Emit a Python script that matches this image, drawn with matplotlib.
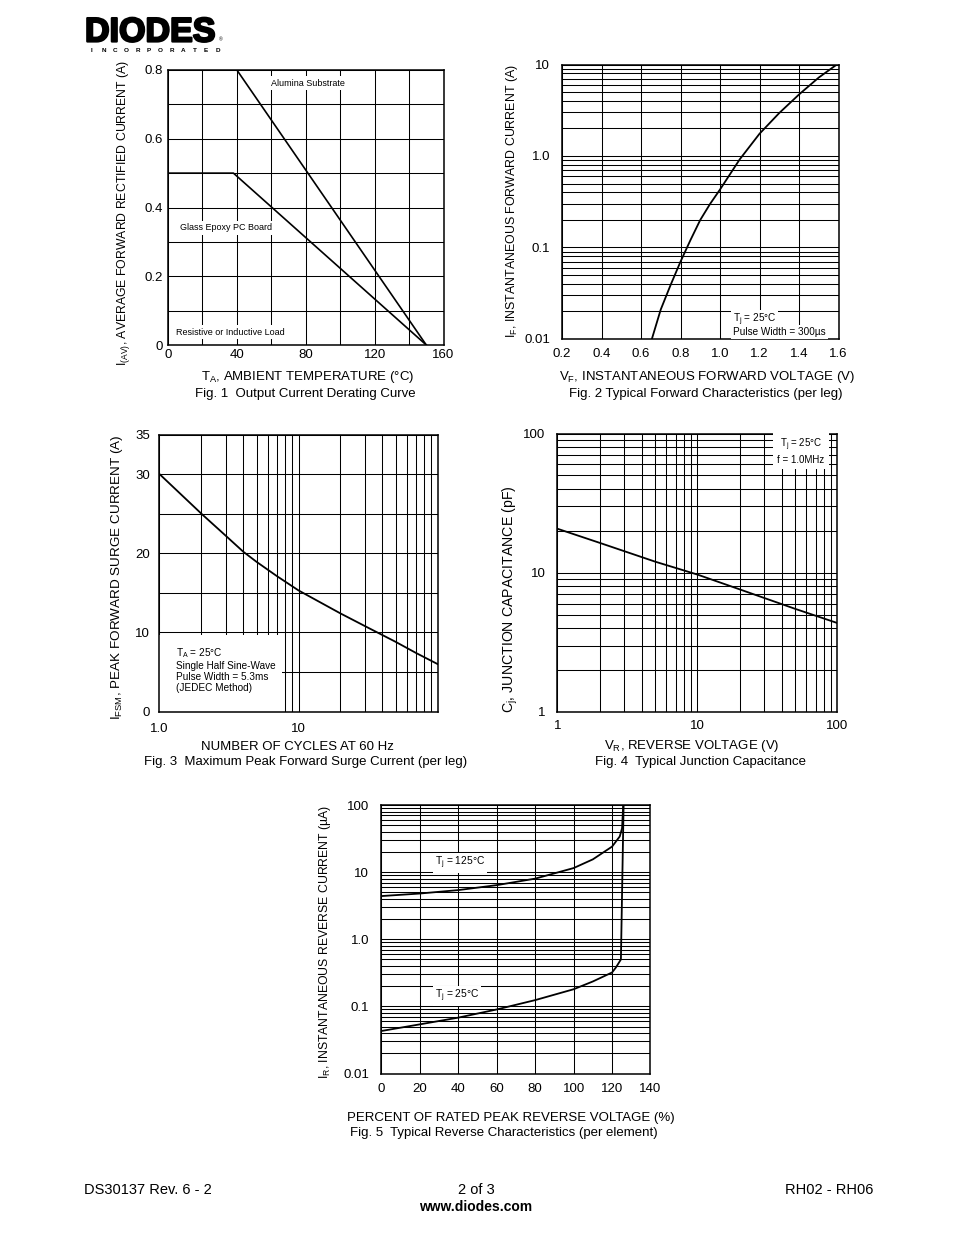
import matplotlib
matplotlib.use("Agg")
import matplotlib.pyplot as plt
import matplotlib.ticker as mticker
import matplotlib.patheffects as pe
from matplotlib.lines import Line2D
from matplotlib.patches import Rectangle

# ---------------------------------------------------------------------------
# Data
# ---------------------------------------------------------------------------

# Fig. 1  Output current derating
temp_alumina = [0, 40, 150]
iav_alumina = [0.8, 0.8, 0.0]
temp_epoxy = [0, 38, 150]
iav_epoxy = [0.5, 0.5, 0.0]

# Fig. 2  Typical forward characteristics
vf = [0.655, 0.70, 0.75, 0.80, 0.85, 0.90, 0.95, 1.00, 1.10, 1.20, 1.30, 1.40, 1.50, 1.60]
i_f = [0.01, 0.021, 0.039, 0.07, 0.12, 0.2, 0.30, 0.43, 0.92, 1.75, 2.95, 4.7, 7.2, 10.3]

# Fig. 3  Max peak forward surge current
cycles = [1, 2, 3, 4, 5, 7, 10, 20, 30, 50, 70, 100]
ifsm = [30, 25, 22.2, 20.2, 18.9, 17.1, 15.3, 12.4, 10.8, 8.8, 7.4, 6.0]

# Fig. 4  Typical junction capacitance
vr = [1, 2, 5, 10, 20, 50, 100]
cj = [20.7, 16.4, 12.0, 9.7, 7.6, 5.5, 4.35]

# Fig. 5  Typical reverse characteristics
pct_hot = [0, 20, 40, 60, 80, 100, 110, 120, 124, 125.2, 125.8]
ir_hot = [4.4, 4.8, 5.4, 6.4, 8.0, 11.5, 15.5, 24, 34, 45, 100]
pct_cold = [0, 20, 40, 60, 80, 100, 110, 120, 122, 124.6, 125.3, 126]
ir_cold = [0.043, 0.054, 0.068, 0.09, 0.124, 0.18, 0.235, 0.32, 0.38, 0.5, 7, 100]

# ---------------------------------------------------------------------------
# Page setup
# ---------------------------------------------------------------------------

W, H = 954, 1235
plt.rcParams["font.family"] = ["Liberation Sans", "DejaVu Sans"]
plt.rcParams["mathtext.fontset"] = "custom"
plt.rcParams["mathtext.rm"] = "Liberation Sans"
plt.rcParams["mathtext.it"] = "Liberation Sans:italic"
plt.rcParams["mathtext.bf"] = "Liberation Sans:bold"
plt.rcParams["mathtext.default"] = "regular"

fig = plt.figure(figsize=(W / 100, H / 100), dpi=100)
fig.patch.set_facecolor("white")

LBL = 9.5     # axis labels, tick labels, captions
NOTE = 7.2    # notes inside the plots
BOX = dict(facecolor="white", edgecolor="none", pad=1.5)


def ftext(x, y, s, **kw):
    """Figure text at pixel coordinates (origin top-left)."""
    kw.setdefault("fontsize", LBL)
    return fig.text(x / W, 1 - y / H, s, **kw)


def px_axes(left, top, right, bottom):
    return fig.add_axes([left / W, 1 - bottom / H, (right - left) / W, (bottom - top) / H])


def style(ax, pad_x, pad_y):
    for s in ax.spines.values():
        s.set_linewidth(1.1)
        s.set_color("black")
    ax.grid(True, which="both", color="black", linewidth=0.75)
    ax.tick_params(which="both", length=0, labelsize=LBL, colors="black")
    ax.tick_params(axis="x", pad=pad_x)
    ax.tick_params(axis="y", pad=pad_y)


def log_minor(axis):
    axis.set_minor_locator(mticker.LogLocator(subs=range(2, 10)))
    axis.set_minor_formatter(mticker.NullFormatter())


# ---------------------------------------------------------------------------
# Fig. 1
# ---------------------------------------------------------------------------
ax1 = px_axes(168, 70, 443.5, 345)
ax1.plot(temp_alumina, iav_alumina, color="black", lw=1.2, zorder=3)
ax1.plot(temp_epoxy, iav_epoxy, color="black", lw=1.2, zorder=3)
ax1.set_xlim(0, 160)
ax1.set_ylim(0, 0.8)
ax1.xaxis.set_major_locator(mticker.MultipleLocator(40))
ax1.xaxis.set_minor_locator(mticker.MultipleLocator(20))
ax1.yaxis.set_major_locator(mticker.MultipleLocator(0.2))
ax1.yaxis.set_minor_locator(mticker.MultipleLocator(0.1))
ax1.yaxis.set_major_formatter(mticker.FuncFormatter(lambda v, _: "0" if v == 0 else f"{v:.1f}"))
style(ax1, 3, 4)
ftext(271, 83, "Alumina Substrate", fontsize=6.5, va="center", bbox=BOX)
ftext(180, 228, "Glass Epoxy PC Board", fontsize=6.5, va="center", bbox=BOX)
ftext(176, 332, "Resistive or Inductive Load", fontsize=6.5, va="center", bbox=BOX)
ftext(124, 213, "I$_{(AV)}$, AVERAGE FORWARD RECTIFIED CURRENT (A)", rotation=90,
      ha="center", va="center", fontsize=8.8)
ftext(308, 377, "T$_A$, AMBIENT TEMPERATURE (°C)", ha="center", va="center")
ftext(305, 394, "Fig. 1  Output Current Derating Curve", ha="center", va="center")

# ---------------------------------------------------------------------------
# Fig. 2
# ---------------------------------------------------------------------------
ax2 = px_axes(562, 64.5, 838.5, 339)
ax2.plot(vf, i_f, color="black", lw=1.3, zorder=3)
ax2.set_yscale("log")
ax2.set_xlim(0.2, 1.6)
ax2.set_ylim(0.01, 10)
ax2.xaxis.set_major_locator(mticker.MultipleLocator(0.2))
ax2.xaxis.set_major_formatter(mticker.FormatStrFormatter("%.1f"))
ax2.set_yticks([0.01, 0.1, 1, 10])
ax2.set_yticklabels(["0.01", "0.1", "1.0", "10"])
log_minor(ax2.yaxis)
style(ax2, 6.5, 8.5)
ftext(733, 320, "T$_j$ = 25°C", fontsize=NOTE, va="center", bbox=BOX)
ftext(733, 332, "Pulse Width = 300µs", fontsize=NOTE, va="center", bbox=BOX)
ftext(512, 201, "I$_F$, INSTANTANEOUS FORWARD CURRENT (A)", rotation=90,
      ha="center", va="center", fontsize=8.9)
ftext(707, 377, "V$_F$, INSTANTANEOUS FORWARD VOLTAGE (V)", ha="center", va="center")
ftext(706, 394, "Fig. 2 Typical Forward Characteristics (per leg)", ha="center", va="center")

# ---------------------------------------------------------------------------
# Fig. 3
# ---------------------------------------------------------------------------
ax3 = px_axes(159.5, 434.5, 437.5, 711.5)
ax3.plot(cycles, ifsm, color="black", lw=1.3, zorder=3)
ax3.set_xscale("log")
ax3.set_xlim(1, 100)
ax3.set_ylim(0, 35)
ax3.set_xticks([1, 10])
ax3.set_xticklabels(["1.0", "10"])
log_minor(ax3.xaxis)
ax3.set_yticks([0, 10, 20, 30, 35])
ax3.yaxis.set_minor_locator(mticker.MultipleLocator(5))
style(ax3, 8, 7)
ax3.add_patch(Rectangle((0, 0), 0.44, 0.275, transform=ax3.transAxes,
                        facecolor="white", edgecolor="none", zorder=1.8))
ftext(176, 646, "T$_A$ = 25°C\nSingle Half Sine-Wave\nPulse Width = 5.3ms\n(JEDEC Method)",
      fontsize=NOTE, va="top", linespacing=1.15)
ftext(117, 577, "I$_{FSM}$, PEAK FORWARD SURGE CURRENT (A)", rotation=90,
      ha="center", va="center", fontsize=9.7)
ftext(297, 747, "NUMBER OF CYCLES AT 60 Hz", ha="center", va="center")
ftext(306, 762, "Fig. 3  Maximum Peak Forward Surge Current (per leg)", ha="center", va="center")

# ---------------------------------------------------------------------------
# Fig. 4
# ---------------------------------------------------------------------------
ax4 = px_axes(557.5, 433.5, 837.5, 712)
ax4.plot(vr, cj, color="black", lw=1.3, zorder=3)
ax4.set_xscale("log")
ax4.set_yscale("log")
ax4.set_xlim(1, 100)
ax4.set_ylim(1, 100)
ax4.set_xticks([1, 10, 100])
ax4.set_xticklabels(["1", "10", "100"])
ax4.set_yticks([1, 10, 100])
ax4.set_yticklabels(["1", "10", "100"])
log_minor(ax4.xaxis)
log_minor(ax4.yaxis)
style(ax4, 6, 8.5)
ftext(801, 451, "T$_j$ = 25°C\nf = 1.0MHz", fontsize=7, ha="center", va="center",
      multialignment="center", linespacing=1.2, bbox=dict(facecolor="white", edgecolor="none", pad=3))
ftext(510, 599, "C$_j$, JUNCTION CAPACITANCE (pF)", rotation=90, ha="center", va="center",
      fontsize=10.2)
ftext(692, 746, "V$_R$, REVERSE VOLTAGE (V)", ha="center", va="center")
ftext(701, 762, "Fig. 4  Typical Junction Capacitance", ha="center", va="center")

# ---------------------------------------------------------------------------
# Fig. 5
# ---------------------------------------------------------------------------
ax5 = px_axes(381.5, 805, 650.5, 1073.5)
ax5.plot(pct_hot, ir_hot, color="black", lw=1.3, zorder=3)
ax5.plot(pct_cold, ir_cold, color="black", lw=1.3, zorder=3)
ax5.set_yscale("log")
ax5.set_xlim(0, 140)
ax5.set_ylim(0.01, 100)
ax5.xaxis.set_major_locator(mticker.MultipleLocator(20))
ax5.set_yticks([0.01, 0.1, 1, 10, 100])
ax5.set_yticklabels(["0.01", "0.1", "1.0", "10", "100"])
log_minor(ax5.yaxis)
style(ax5, 7, 9)
ftext(435, 863, "T$_j$ = 125°C", fontsize=7.4, va="center", bbox=BOX)
ftext(435, 996, "T$_j$ = 25°C", fontsize=7.4, va="center", bbox=BOX)
ftext(325, 942, "I$_R$, INSTANTANEOUS REVERSE CURRENT (µA)", rotation=90,
      ha="center", va="center", fontsize=8.85)
ftext(511, 1118, "PERCENT OF RATED PEAK REVERSE VOLTAGE (%)", ha="center", va="center")
ftext(504, 1133, "Fig. 5  Typical Reverse Characteristics (per element)", ha="center", va="center")

# ---------------------------------------------------------------------------
# Logo and footer
# ---------------------------------------------------------------------------
ftext(85, 41.5, "DIODES", fontsize=24.5, fontweight="bold", va="baseline",
      path_effects=[pe.withStroke(linewidth=1.6, foreground="black")])
fig.add_artist(Line2D([84 / W, 222 / W], [1 - 31 / H, 1 - 31 / H], color="white", lw=1.2))
ftext(219, 41, "®", fontsize=3.5, va="baseline")
for i, ch in enumerate("INCORPORATED"):
    ftext(92 + i * 11.4, 50, ch, fontsize=4.6, fontweight="bold", ha="center", va="center")

ftext(84, 1190, "DS30137 Rev. 6 - 2", fontsize=10.5, va="center")
ftext(476, 1190, "2 of 3", fontsize=10.5, ha="center", va="center")
ftext(873, 1190, "RH02 - RH06", fontsize=10.5, ha="right", va="center")
ftext(476, 1207, "www.diodes.com", fontsize=10, fontweight="bold", ha="center", va="center")

fig.savefig("out.png", dpi=100, facecolor="white")
